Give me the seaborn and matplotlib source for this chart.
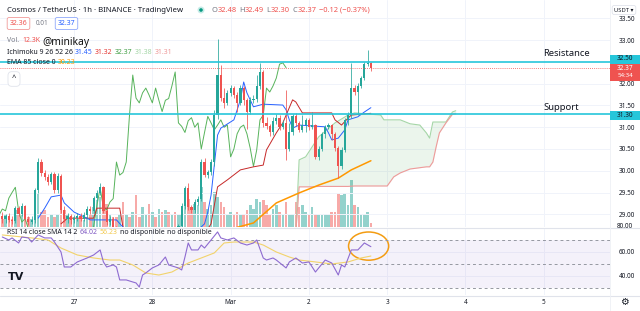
import numpy as np
import pandas as pd
import matplotlib
matplotlib.use("Agg")
import matplotlib.pyplot as plt
from matplotlib.patches import Rectangle, Ellipse
from matplotlib.lines import Line2D
import seaborn as sns

# ================================
# 1. Data, hours counted from Feb 27 00:00
# ================================
hours = list(range(-22, 92))

open_ = [28.95, 28.88, 28.95, 28.86, 28.85, 29.14, 29.00, 29.20, 28.90, 28.82,
         28.86, 29.55, 30.20, 29.95, 29.86, 29.75, 29.92, 29.55, 29.88, 29.10,
         28.88, 28.95, 28.86, 28.92, 28.97, 28.90, 28.98, 29.12, 29.08, 29.37,
         29.50, 29.62, 29.08, 28.82, 28.90, 28.66, 28.55, 28.60, 28.45, 28.50,
         28.36, 28.40, 28.25, 28.18, 28.28, 28.36, 28.30, 28.45, 28.40, 28.52,
         28.48, 28.58, 28.52, 28.62, 28.58, 28.72, 29.20, 29.60, 29.16, 29.10,
         29.28, 29.36, 30.20, 29.90, 29.96, 30.20, 31.28, 32.20, 31.67, 31.56,
         31.79, 31.90, 31.74, 31.56, 31.90, 31.62, 31.36, 31.62, 31.66, 31.95,
         32.27, 31.10, 31.02, 30.88, 31.15, 31.22, 31.00, 31.10, 30.50, 30.88,
         31.25, 31.10, 30.94, 31.05, 31.17, 31.00, 31.05, 30.32, 30.50, 30.85,
         31.00, 31.05, 30.85, 30.52, 30.10, 30.48, 31.17, 31.28, 31.90, 31.81,
         31.95, 32.13, 32.45, 32.48]
close = [28.88, 28.95, 28.86, 28.85, 29.14, 29.00, 29.20, 28.90, 28.82, 28.86,
         29.55, 30.20, 29.95, 29.86, 29.75, 29.92, 29.55, 29.88, 29.10, 28.88,
         28.95, 28.86, 28.92, 28.97, 28.90, 28.98, 29.12, 29.08, 29.37, 29.50,
         29.62, 29.08, 28.82, 28.90, 28.66, 28.55, 28.60, 28.45, 28.50, 28.36,
         28.40, 28.25, 28.18, 28.28, 28.36, 28.30, 28.45, 28.40, 28.52, 28.48,
         28.58, 28.52, 28.62, 28.58, 28.72, 29.20, 29.60, 29.16, 29.10, 29.28,
         29.36, 30.20, 29.90, 29.96, 30.20, 31.28, 32.20, 31.67, 31.56, 31.79,
         31.90, 31.74, 31.56, 31.90, 31.62, 31.36, 31.62, 31.66, 31.95, 32.27,
         31.10, 31.02, 30.88, 31.15, 31.22, 31.00, 31.10, 30.50, 30.88, 31.25,
         31.10, 30.94, 31.05, 31.17, 31.00, 31.05, 30.32, 30.50, 30.85, 31.00,
         31.05, 30.85, 30.52, 30.10, 30.48, 31.17, 31.28, 31.90, 31.81, 31.95,
         32.13, 32.45, 32.48, 32.37]
high = [29.05, 29.00, 29.02, 28.95, 29.18, 29.18, 29.25, 29.22, 28.95, 28.95,
        29.60, 30.30, 30.28, 30.02, 29.92, 29.98, 29.97, 29.95, 29.92, 29.18,
        29.02, 29.00, 28.98, 29.03, 29.02, 29.05, 29.18, 29.20, 29.42, 29.56,
        29.72, 29.66, 29.12, 28.96, 28.93, 28.72, 28.66, 28.66, 28.56, 28.56,
        28.46, 28.46, 28.31, 28.34, 28.42, 28.42, 28.51, 28.51, 28.58, 28.58,
        28.64, 28.64, 28.68, 28.68, 28.78, 29.25, 29.66, 29.72, 29.22, 29.35,
        29.42, 30.26, 30.30, 30.02, 30.28, 31.40, 33.03, 32.43, 31.90, 31.85,
        31.96, 31.95, 31.80, 31.98, 31.95, 31.68, 31.70, 31.75, 32.20, 32.48,
        32.32, 31.24, 31.08, 31.24, 31.30, 31.28, 31.17, 31.85, 31.10, 31.30,
        31.32, 31.14, 31.28, 31.22, 31.22, 31.35, 31.08, 30.56, 30.90, 31.05,
        31.10, 31.08, 30.90, 30.58, 30.55, 31.22, 31.35, 32.48, 31.98, 32.02,
        32.18, 32.50, 32.78, 32.49]
low = [28.80, 28.80, 28.82, 28.78, 28.80, 28.95, 28.95, 28.85, 28.76, 28.78,
       28.80, 29.50, 29.88, 29.78, 29.68, 29.70, 29.50, 29.48, 29.02, 28.82,
       28.80, 28.78, 28.80, 28.85, 28.84, 28.85, 28.92, 29.00, 29.02, 29.30,
       29.45, 29.02, 28.76, 28.76, 28.60, 28.49, 28.49, 28.39, 28.39, 28.30,
       28.30, 28.19, 28.12, 28.12, 28.22, 28.24, 28.24, 28.34, 28.34, 28.42,
       28.42, 28.46, 28.46, 28.52, 28.52, 28.68, 29.12, 29.10, 29.02, 29.02,
       29.22, 29.30, 29.85, 29.84, 29.90, 30.12, 31.20, 31.60, 31.45, 31.50,
       31.72, 31.68, 31.35, 31.50, 31.50, 30.95, 31.30, 31.55, 31.58, 31.88,
       31.00, 30.95, 30.80, 30.82, 31.08, 30.94, 30.95, 30.25, 30.45, 30.82,
       31.02, 30.88, 30.88, 30.89, 30.94, 30.95, 30.28, 30.25, 30.45, 30.75,
       30.95, 30.70, 30.45, 29.83, 30.05, 30.42, 31.05, 31.22, 31.75, 31.28,
       31.90, 32.08, 32.40, 32.30]
volume_k = [28, 45, 35, 28, 60, 45, 63, 45, 35, 28,
            77, 115, 52, 60, 35, 45, 35, 45, 80, 60,
            45, 35, 35, 28, 28, 25, 35, 45, 70, 95,
            105, 115, 80, 45, 35, 35, 45, 88, 45, 35,
            52, 112, 35, 70, 45, 80, 52, 35, 63, 52,
            60, 52, 45, 52, 42, 45, 98, 98, 60, 80,
            77, 140, 88, 63, 77, 122, 105, 88, 70, 45,
            52, 45, 52, 42, 45, 60, 77, 63, 98, 88,
            95, 77, 45, 63, 77, 52, 42, 88, 42, 45,
            88, 70, 77, 52, 45, 70, 45, 42, 42, 45,
            42, 52, 52, 115, 112, 119, 77, 165, 77, 70,
            45, 45, 52, 12.3]

# Ichimoku 9 26 52 26
conv_h = [-11, -9, -7, -4, -3, 0, 2, 5, 13, 16, 20, 36, 40, 41, 42, 43, 44, 45, 49,
          51, 52, 53, 55, 58, 64, 65, 66, 67, 69, 77, 78, 79, 81, 83, 84, 87, 89, 91]
conv_v = [28.91, 29.14, 29.40, 29.44, 29.26, 29.05, 28.98, 28.87, 28.87, 28.62, 28.50,
          28.50, 28.78, 29.05, 29.44, 30.13, 30.82, 30.98, 31.17, 31.63, 32.04, 31.79,
          31.47, 31.53, 31.51, 31.40, 31.17, 30.98, 31.05, 31.01, 30.87, 30.71, 30.75,
          30.94, 31.17, 31.24, 31.35, 31.45]
base_h = [-4, -2, 6, 7, 14, 15, 20, 40, 42, 44, 47, 51, 55, 58, 59, 62, 64, 67, 68,
          70, 79, 80, 82, 84, 85, 91]
base_v = [28.78, 28.91, 28.91, 29.14, 29.14, 28.70, 28.55, 28.55, 28.78, 29.63, 29.79,
          30.02, 30.09, 30.13, 30.48, 30.87, 31.10, 31.63, 31.58, 31.33, 31.33, 31.17,
          31.05, 31.21, 31.28, 31.32]
cloud_h = [68, 69, 71, 73, 75, 80, 84, 86, 91, 94, 95, 96, 98, 100, 103, 106, 108,
           109, 110, 111, 112, 114, 116, 117]
span_a = [28.60, 30.25, 30.32, 30.55, 30.78, 31.10, 31.28, 31.33, 31.30, 31.28, 31.17,
          31.17, 31.17, 31.17, 31.08, 31.05, 30.87, 30.75, 31.12, 31.12, 31.12, 31.12,
          31.35, 31.38]
span_b = [28.60, 29.63, 29.63, 29.63, 29.64, 29.64, 29.64, 29.65, 29.65, 29.65, 29.65,
          29.65, 29.86, 29.95, 30.04, 30.07, 30.09, 30.09, 30.20, 30.55, 30.87, 31.10,
          31.30, 31.31]
lag_shift = 26

# EMA 85
ema_h = [50, 55, 62, 69, 75, 81, 85, 91]
ema_v = [28.70, 28.80, 29.26, 29.49, 29.67, 29.83, 30.02, 30.23]

# RSI 14 and its SMA 14
rsi_h = [-22, -20, -19, -17, -16, -14, -13, -11, -9, -7, -6, -4, -3, -1, 1, 4, 6, 8, 9, 10,
         12, 13, 14, 16, 18, 19, 20, 21, 22, 24, 26, 28, 29, 32, 33, 34, 35, 36, 38, 39,
         40, 42, 44, 45, 47, 49, 51, 53, 55, 56, 58, 59, 61, 62, 65, 66, 68, 70, 72, 74,
         75, 77, 79, 81, 82, 83, 85, 87, 89, 91]
rsi_v = [72.1, 69.6, 71.3, 67.1, 72.1, 71.3, 67.9, 73.8, 71.3, 71.3, 67.9, 59.6, 47.1, 47.1,
         51.3, 54.6, 57.1, 61.3, 51.3, 47.1, 48.8, 47.1, 36.3, 36.3, 34.6, 33.8, 30.4, 40.4,
         42.1, 46.3, 48.8, 55.4, 48.8, 46.3, 44.6, 55.4, 67.1, 61.3, 61.3, 65.4, 62.9, 69.6,
         76.3, 71.3, 69.6, 71.3, 67.1, 65.4, 67.1, 69.6, 54.6, 52.9, 54.6, 52.9, 46.3, 51.3,
         54.6, 50.4, 51.3, 42.9, 46.3, 52.9, 50.4, 40.4, 48.8, 47.1, 61.3, 61.3, 67.1, 64.02]
sma_h = [-22, -13, -8, -4, 1, 6, 11, 14, 18, 22, 26, 30, 35, 39, 43, 46, 49, 55, 58, 62,
         66, 69, 74, 79, 84, 88, 91]
sma_v = [73.8, 71.3, 69.6, 62.9, 57.1, 54.6, 52.9, 52.9, 48.8, 42.1, 40.4, 42.9, 50.4, 54.6,
         58.8, 67.1, 67.9, 67.9, 65.4, 59.6, 55.4, 52.9, 51.3, 49.6, 51.3, 54.6, 56.23]

day_ticks = [0, 24, 48, 72, 96, 120, 144]
day_labels = ["27", "28", "Mar", "2", "3", "4", "5"]
price_ticks = [29.0, 29.5, 30.0, 30.5, 31.0, 31.5, 32.0, 33.0, 33.5]
resistance = 32.50
support = 31.30
last_price = 32.37

# ================================
# 2. Style
# ================================
sns.set_theme(style="white")
plt.rcParams['font.family'] = ['Noto Sans', 'DejaVu Sans']

UP, DOWN = "#26a69a", "#ef5350"
TXT, GREY = "#131722", "#787b86"
CYAN = "#26c6da"

W, H = 640, 311


def rect(x0, y0, x1, y1):
    return [x0 / W, 1 - y1 / H, (x1 - x0) / W, (y1 - y0) / H]


fig = plt.figure(figsize=(6.4, 3.11), dpi=100, facecolor="white")
axv = fig.add_axes(rect(0, 0, 610, 227))
axr = fig.add_axes(rect(0, 229, 610, 295), sharex=axv)
ax = fig.add_axes(rect(0, 0, 610, 227), sharex=axv)
ax.patch.set_alpha(0)
axr.patch.set_alpha(0)

df = pd.DataFrame({"h": hours, "o": open_, "c": close, "hi": high, "lo": low, "vol": volume_k})
df["up"] = df["c"] >= df["o"]
body_col = np.where(df["up"], UP, DOWN)
vol_col = np.where(df["up"], "#93d2cc", "#f7aaa8")

# ================================
# 3. Volume (bottom layer)
# ================================
axv.bar(df["h"], df["vol"], width=0.8, color=vol_col, linewidth=0)
axv.set_ylim(0, 795)
axv.set_yticks([])
axv.tick_params(axis="x", labelbottom=False, length=0)
axv.set_xticks(day_ticks)
axv.grid(axis="x", color="#f0f3fa", lw=0.7)

# ================================
# 4. Price panel
# ================================
ax.set_xlim(-22.7, 164.3)
ax.set_ylim(28.707, 33.925)
ax.set_yticks(price_ticks)
ax.set_yticklabels([f"{p:.2f}" for p in price_ticks])
ax.yaxis.tick_right()
ax.tick_params(axis="y", length=0, labelsize=4.6, labelcolor=TXT, pad=6)
ax.tick_params(axis="x", labelbottom=False, length=0)
ax.grid(axis="y", color="#f0f3fa", lw=0.7)

# cloud
ax.fill_between(cloud_h, span_a, span_b, color="#43a047", alpha=0.1, linewidth=0)
sns.lineplot(x=cloud_h, y=span_a, ax=ax, color="#a5d6a7", lw=0.8, estimator=None)
sns.lineplot(x=cloud_h, y=span_b, ax=ax, color="#ef9a9a", lw=0.8, estimator=None)
# lagging span = closes shifted back
sns.lineplot(x=df["h"] - lag_shift, y=df["c"], ax=ax, color="#57b35b", lw=0.7, estimator=None)
sns.lineplot(x=base_h, y=base_v, ax=ax, color="#c62828", lw=0.7, estimator=None)
sns.lineplot(x=conv_h, y=conv_v, ax=ax, color="#2962ff", lw=0.7, estimator=None)
sns.lineplot(x=ema_h, y=ema_v, ax=ax, color="#ff9800", lw=1.1, estimator=None)

# candles
ax.vlines(df["h"], df["lo"], df["hi"], colors=body_col, lw=0.55, zorder=4)
body = (df["c"] - df["o"]).abs().clip(lower=0.02)
ax.bar(df["h"], body, bottom=df[["o", "c"]].min(axis=1), width=0.68,
       color=body_col, linewidth=0, zorder=5)

ax.axhline(resistance, color=CYAN, lw=1.2, zorder=6)
ax.axhline(support, color=CYAN, lw=1.2, zorder=6)
ax.axhline(last_price, color=DOWN, lw=0.6, ls=(0, (1, 1.5)), zorder=6)

# ================================
# 5. RSI panel
# ================================
axr.set_ylim(23.75, 78.75)
axr.axhspan(30, 70, color="#7e57c2", alpha=0.08, lw=0)
for lvl in (70, 50, 30):
    axr.axhline(lvl, color="#9598a1", lw=0.7, ls=(0, (3, 3)))
sns.lineplot(x=sma_h, y=sma_v, ax=axr, color="#f2d36b", lw=0.8, estimator=None)
sns.lineplot(x=rsi_h, y=rsi_v, ax=axr, color="#8e6bd1", lw=0.8, estimator=None)
axr.add_patch(Ellipse((90.3, 64.5), 12.3, 23.5, fill=False, ec="#f39c12", lw=1.1))
axr.set_yticks([40, 60])
axr.set_yticklabels(["40.00", "60.00"])
axr.yaxis.tick_right()
axr.tick_params(axis="y", length=0, labelsize=4.6, labelcolor=TXT, pad=6)
axr.set_xticks(day_ticks)
axr.set_xticklabels(day_labels)
axr.tick_params(axis="x", length=0, labelsize=4.6, labelcolor=TXT, pad=3)
axr.grid(axis="x", color="#f0f3fa", lw=0.7)
axr.grid(axis="y", color="#f0f3fa", lw=0.7)
axr.set_xlabel("")
axr.set_ylabel("")
ax.set_xlabel("")
ax.set_ylabel("")

for a in (ax, axv, axr):
    for s in a.spines.values():
        s.set_visible(False)

# panel separators
for y in (228, 296):
    fig.add_artist(Line2D([0, 1], [1 - y / H] * 2, color="#e0e3eb", lw=0.8))
fig.add_artist(Line2D([610 / W] * 2, [1 - 311 / H, 1], color="#eef0f5", lw=0.6))


# ================================
# 6. Texts and labels
# ================================
def fx(x):
    return x / W


def fy(y):
    return 1 - y / H


def chain(x, y, parts, size=5.0, gap=1.6):
    t = fig.text(fx(x), fy(y), parts[0][0], color=parts[0][1], fontsize=size,
                 va="center", ha="left", zorder=10)
    for s, c, *g in parts[1:]:
        t = ax.annotate(s, xy=(1, 0.5), xycoords=t, xytext=(g[0] if g else gap, 0),
                        textcoords="offset points", va="center", ha="left",
                        color=c, fontsize=size, annotation_clip=False, zorder=10)
    return t


chain(7, 10, [("Cosmos / TetherUS · 1h · BINANCE · TradingView", TXT)], size=5.6)
fig.add_artist(Ellipse((fx(201), fy(10)), 7 / W, 7 / H, transform=fig.transFigure,
                       fc="#c8ece8", ec="none"))
fig.add_artist(Ellipse((fx(201), fy(10)), 3.6 / W, 3.6 / H, transform=fig.transFigure,
                       fc="#089981", ec="none"))
chain(211, 10, [("O", GREY), ("32.48", DOWN), ("H", GREY, 1.6), ("32.49", DOWN),
                ("L", GREY, 1.6), ("32.30", DOWN), ("C", GREY, 1.6), ("32.37", DOWN),
                ("−0.12 (−0.37%)", DOWN, 1.8)], size=5.4, gap=0.4)

fig.text(fx(18.5), fy(23.5), "32.36", color=DOWN, fontsize=5.0, ha="center", va="center",
         bbox=dict(boxstyle="round,pad=0.35,rounding_size=0.25", fc="white", ec="#f19a98", lw=0.6))
fig.text(fx(36), fy(23.5), "0.01", color=GREY, fontsize=4.6, ha="left", va="center")
fig.text(fx(66.5), fy(23.5), "32.37", color="#2962ff", fontsize=5.0, ha="center", va="center",
         bbox=dict(boxstyle="round,pad=0.35,rounding_size=0.25", fc="white", ec="#8fa8fb", lw=0.6))

chain(7, 40, [("Vol.", GREY), ("12.3K", DOWN)], size=5.0, gap=2.5)
fig.text(fx(42), fy(43), "@minikay", color="#111111", fontsize=7.4, ha="left", va="center")
chain(7, 53, [("Ichimoku 9 26 52 26", TXT), ("31.45", "#2962ff"), ("31.32", "#e53935"),
              ("32.37", "#43a047"), ("31.38", "#a5d6a7"), ("31.31", "#ef9a9a")], size=5.0)
chain(7, 63, [("EMA 85 close 0", TXT), ("30.23", "#ff9800")], size=5.0)
fig.text(fx(14), fy(79), "^", color=TXT, fontsize=5.5, ha="center", va="center",
         bbox=dict(boxstyle="round,pad=0.5", fc="white", ec="#e0e3eb", lw=0.6))

chain(7, 232, [("RSI 14 close SMA 14 2", TXT), ("64.02", "#7e57c2"), ("56.23", "#f2c94c"),
               ("no disponible", TXT), ("no disponible", TXT)], size=5.0)
fig.text(fx(8), fy(277), "TV", color="#131722", fontsize=8, fontweight="bold",
         ha="left", va="center", family="DejaVu Sans")

fig.text(fx(543), fy(53), "Resistance", color=TXT, fontsize=6.8, ha="left", va="center")
fig.text(fx(543), fy(107), "Support", color=TXT, fontsize=6.8, ha="left", va="center")

# price scale boxes
fig.add_artist(Rectangle((fx(610), fy(63.5)), 30 / W, 9 / H, transform=fig.transFigure,
                         fc=CYAN, ec="none", zorder=8))
fig.text(fx(625), fy(59), "32.50", color=TXT, fontsize=4.6, ha="center", va="center", zorder=9)
fig.add_artist(Rectangle((fx(610), fy(80.5)), 30 / W, 16.5 / H, transform=fig.transFigure,
                         fc=DOWN, ec="none", zorder=8))
fig.text(fx(625), fy(68), "32.37", color="white", fontsize=4.6, ha="center", va="center", zorder=9)
fig.text(fx(625), fy(75.5), "54:34", color="white", fontsize=4.4, ha="center", va="center", zorder=9)
fig.add_artist(Rectangle((fx(610), fy(119.5)), 30 / W, 9 / H, transform=fig.transFigure,
                         fc=CYAN, ec="none", zorder=8))
fig.text(fx(625), fy(115), "31.30", color=TXT, fontsize=4.6, ha="center", va="center", zorder=9)
fig.text(fx(624), fy(10), "USDT ▾", color=TXT, fontsize=4.2, ha="center", va="center",
         bbox=dict(boxstyle="round,pad=0.35", fc="white", ec="#e0e3eb", lw=0.6))
fig.text(fx(625), fy(227), "80.00", color=TXT, fontsize=4.6, ha="center", va="center")
fig.text(fx(624), fy(302), "⚙", color=TXT, fontsize=7, ha="center", va="center",
         family="DejaVu Sans")

fig.savefig("out.png", dpi=100, facecolor="white")
